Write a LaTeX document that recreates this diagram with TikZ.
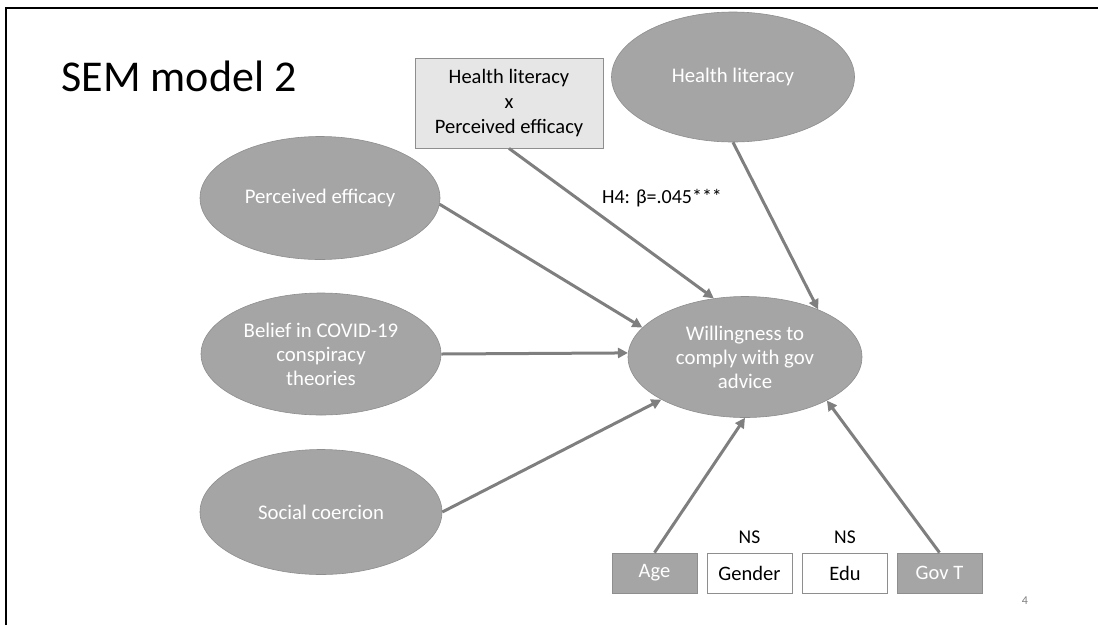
\documentclass[tikz,border=0pt]{standalone}
\usepackage{fontspec}
\setmainfont{Carlito}
\usetikzlibrary{shapes.geometric,arrows.meta}
\definecolor{latent}{HTML}{A5A5A5}
\definecolor{latentline}{HTML}{8E8E8E}
\definecolor{pathgray}{HTML}{7F7F7F}
\definecolor{boxgray}{HTML}{E7E6E6}
\tikzset{
	latentvar/.style={ellipse, fill=latent, draw=latentline, line width=0.6pt,
		text=white, align=center, inner sep=0pt,
		font=\fontsize{20.8}{24}\selectfont},
	ctrlbox/.style={rectangle, draw=latentline, line width=0.8pt,
		minimum width=85pt, minimum height=40pt, inner sep=0pt,
		font=\fontsize{20.5}{24}\selectfont},
	path/.style={draw=pathgray, line width=3pt, -{Triangle[length=10pt,width=10pt]}}
}
\begin{document}
\begin{tikzpicture}[x=1pt,y=-1pt]
		\useasboundingbox (0,0) rectangle (1098,625);
		\draw[line width=2.2pt] (6,625) -- (6,8) -- (1098,8);
		\node[anchor=west, font=\fontsize{44}{50}\selectfont] (title) at (58,76) {SEM model 2};
		\node[latentvar, minimum width=243pt, minimum height=130pt] (hl) at (733,77) {Health literacy};
		\node[rectangle, fill=boxgray, draw=latentline, line width=0.8pt, align=center,
			minimum width=188pt, minimum height=90pt, inner sep=0pt,
			font=\fontsize{20.5}{25}\selectfont] (hlpe) at (509,103) {Health literacy\\x\\Perceived efficacy};
		\node[latentvar, minimum width=240pt, minimum height=123pt] (pe) at (320,198) {Perceived efficacy};
		\node[latentvar, minimum width=240pt, minimum height=122pt] (bel) at (321,354) {Belief in COVID-19\\conspiracy\\theories};
		\node[latentvar, minimum width=242pt, minimum height=125pt] (soc) at (321,512) {Social coercion};
		\node[latentvar, minimum width=234pt, minimum height=121pt] (will) at (745,357) {Willingness to\\comply with gov\\advice};
		\node[ctrlbox, fill=latent, text=white] (age) at (654.5,573) {Age};
		\node[ctrlbox, fill=white] (gender) at (749.5,573) {Gender};
		\node[ctrlbox, fill=white] (edu) at (845,573) {Edu};
		\node[ctrlbox, fill=latent, text=white] (govt) at (939.5,573) {Gov T};
		\node[font=\fontsize{19.5}{22}\selectfont] (nsg) at (749.5,537) {NS};
		\node[font=\fontsize{19.5}{22}\selectfont] (nse) at (845,537) {NS};
		\node[font=\fontsize{20}{24}\selectfont] (h4) at (662,198) {H4: β=.045***};
		\node[text=gray, font=\fontsize{12}{14}\selectfont] (pg) at (1025,601) {4};
		\draw[path] (hl.south) -- (will.33);
		\draw[path] (hlpe.south) -- (will.118);
		\draw[path] (pe.-3) -- (will.164);
		\draw[path] (bel.east) -- (will.178);
		\draw[path] (soc.east) -- (will.207);
		\draw[path] (age.north) -- (will.south);
		\draw[path] (govt.north) -- (will.-28);
	\end{tikzpicture}
\end{document}
